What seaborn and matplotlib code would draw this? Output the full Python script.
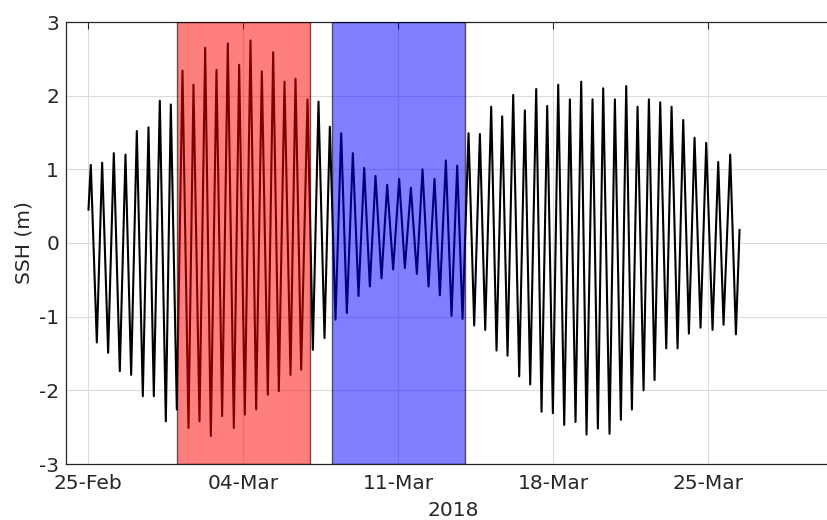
import numpy as np
import pandas as pd
import matplotlib
matplotlib.use("Agg")
import matplotlib.pyplot as plt
import matplotlib.dates as mdates
import seaborn as sns

# High / low water (days after 25-Feb-2018 00:00, metres)
day_offset = [
    0.015, 0.120, 0.392, 0.632, 0.903, 1.159, 1.430, 1.686, 1.942, 2.198,
    2.469, 2.725, 2.966, 3.237, 3.508, 3.734, 4.005, 4.261, 4.532, 4.757,
    5.029, 5.285, 5.541, 5.796, 6.052, 6.308, 6.579, 6.820, 7.076, 7.332,
    7.588, 7.844, 8.115, 8.356, 8.612, 8.868, 9.139, 9.365, 9.621, 9.907,
    10.148, 10.403, 10.674, 10.915, 11.171, 11.427, 11.683, 11.954, 12.210, 12.466,
    12.722, 12.978, 13.249, 13.505, 13.776, 14.047, 14.303, 14.574, 14.845, 15.101,
    15.372, 15.643, 15.884, 16.155, 16.411, 16.667, 16.908, 17.179, 17.435, 17.691,
    17.932, 18.202, 18.443, 18.699, 18.940, 19.196, 19.467, 19.723, 19.964, 20.235,
    20.476, 20.732, 20.988, 21.229, 21.500, 21.756, 22.011, 22.267, 22.508, 22.779,
    23.020, 23.261, 23.547, 23.788, 24.059, 24.300, 24.556, 24.812, 25.083, 25.324,
    25.580, 25.836, 26.107, 26.348, 26.619, 26.875, 27.131, 27.386, 27.657, 27.913,
    28.199, 28.455, 28.696, 28.997, 29.253, 29.419,
]
ssh = [
    0.45, 1.06, -1.35, 1.09, -1.49, 1.22, -1.74, 1.20, -1.79, 1.52,
    -2.08, 1.57, -2.08, 1.93, -2.42, 1.88, -2.26, 2.34, -2.51, 2.15,
    -2.42, 2.65, -2.62, 2.35, -2.35, 2.71, -2.51, 2.42, -2.33, 2.75,
    -2.26, 2.33, -2.06, 2.59, -2.01, 2.19, -1.79, 2.23, -1.72, 1.95,
    -1.45, 1.92, -1.29, 1.58, -1.04, 1.49, -0.95, 1.22, -0.72, 1.02,
    -0.59, 0.91, -0.48, 0.79, -0.36, 0.87, -0.34, 0.75, -0.42, 1.00,
    -0.59, 0.87, -0.71, 1.12, -0.99, 1.05, -1.03, 1.49, -1.12, 1.48,
    -1.18, 1.85, -1.46, 1.72, -1.53, 2.01, -1.81, 1.80, -1.92, 2.09,
    -2.29, 1.86, -2.31, 2.15, -2.47, 1.95, -2.43, 2.19, -2.60, 1.95,
    -2.52, 2.10, -2.59, 1.95, -2.40, 2.13, -2.26, 1.85, -2.00, 1.95,
    -1.86, 1.91, -1.43, 1.85, -1.43, 1.67, -1.23, 1.43, -1.15, 1.36,
    -1.18, 1.10, -1.11, 1.20, -1.24, 0.18,
]

spring_window = ["2018-03-01", "2018-03-07"]
neap_window = ["2018-03-08", "2018-03-14"]
tick_dates = ["2018-02-25", "2018-03-04", "2018-03-11", "2018-03-18", "2018-03-25"]

df = pd.DataFrame({
    "time": pd.Timestamp("2018-02-25") + pd.to_timedelta(day_offset, unit="D"),
    "ssh": ssh,
})

sns.set_style("white")
plt.rcParams["font.family"] = ["DejaVu Sans"]
plt.rcParams["axes.unicode_minus"] = False

fig = plt.figure(figsize=(8.27, 5.2), dpi=100)
ax = fig.add_axes([66 / 827, 56 / 520, (841 - 66) / 827, 442 / 520])

sns.lineplot(data=df, x="time", y="ssh", color="black", linewidth=1.5, ax=ax,
             zorder=2, solid_joinstyle="round")

# spring / neap windows drawn over the curve, half transparent
ax.axvspan(pd.Timestamp(spring_window[0]), pd.Timestamp(spring_window[1]),
           facecolor=(1, 0, 0, 0.5), edgecolor=(0, 0, 0, 0.6), linewidth=1, zorder=3)
ax.axvspan(pd.Timestamp(neap_window[0]), pd.Timestamp(neap_window[1]),
           facecolor=(0, 0, 1, 0.5), edgecolor=(0, 0, 0, 0.6), linewidth=1, zorder=3)

ax.set_xlim(pd.Timestamp("2018-02-24"), pd.Timestamp("2018-03-31"))
ax.set_ylim(-3, 3)
ax.set_xticks([pd.Timestamp(d) for d in tick_dates])
ax.xaxis.set_major_formatter(mdates.DateFormatter("%d-%b"))
ax.set_yticks(np.arange(-3, 4, 1))

ax.grid(True, color="#dcdcdc", linewidth=0.8, zorder=0)
ax.set_axisbelow(True)

ax.tick_params(direction="in", top=True, right=True, length=5, width=0.8,
               colors="#262626", labelsize=14.5)
ax.tick_params(axis="x", pad=7)
ax.tick_params(axis="y", pad=5)
for s in ax.spines.values():
    s.set_color("#262626")
    s.set_linewidth(0.9)

ax.set_xlabel("2018", fontsize=14.5, color="#262626", labelpad=6)
ax.set_ylabel("SSH (m)", fontsize=14.5, color="#262626", labelpad=4)

fig.savefig("out.png", dpi=100)
